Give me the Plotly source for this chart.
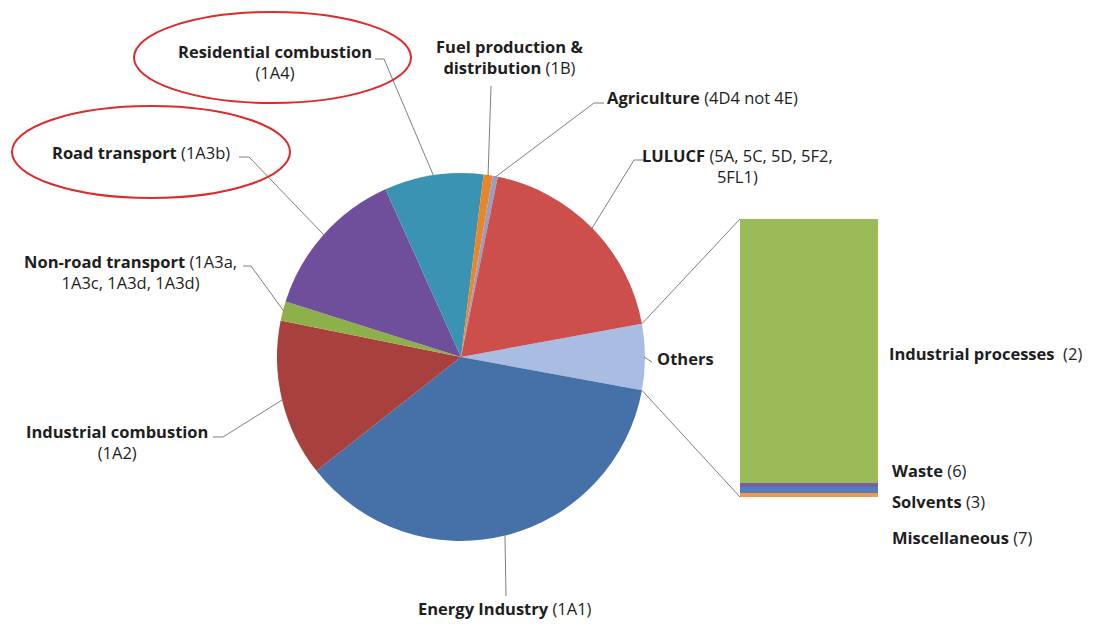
import math
import plotly.graph_objects as go

# ---------------- data (share of total, %) ----------------
pie_labels = [
    "Others",
    "Energy Industry (1A1)",
    "Industrial combustion (1A2)",
    "Non-road transport (1A3a, 1A3c, 1A3d, 1A3d)",
    "Road transport (1A3b)",
    "Residential combustion (1A4)",
    "Fuel production & distribution (1B)",
    "Agriculture (4D4 not 4E)",
    "LULUCF (5A, 5C, 5D, 5F2, 5FL1)",
]
main_values = [36.5, 13.8, 1.7, 13.4, 8.7, 0.8, 0.45, 18.9]

bar_labels = ["Industrial processes  (2)", "Waste (6)", "Solvents (3)", "Miscellaneous (7)"]
bar_values = [5.51, 0.083, 0.125, 0.083]

others_value = sum(bar_values)
pie_values = [others_value] + main_values

pie_colors = ["#A9BCE2", "#4670A8", "#A8403D", "#8DB04A", "#6F4F9C",
              "#3A93B3", "#E8862A", "#9C9CC0", "#CC4F4C"]
bar_colors = ["#9BBB59", "#7A5DA5", "#4F7FBF", "#F79646"]

# ---------------- layout constants (pixels) ----------------
W, H = 1100, 624
CX, CY, R = 461, 357, 184
BAR_X0, BAR_X1, BAR_Y0, BAR_Y1 = 740, 878, 219, 497


def px(x):
    return x / W


def py(y):
    return 1 - y / H


total = sum(pie_values)
rotation = 90 - (others_value / total) * 360 / 2

# slice angles (degrees, clockwise from 12 o'clock)
starts, mids, ends = [], [], []
acc = 0.0
for v in pie_values:
    a0 = rotation + acc / total * 360
    acc += v
    a1 = rotation + acc / total * 360
    starts.append(a0)
    ends.append(a1)
    mids.append((a0 + a1) / 2)


def edge(angle, r=R):
    a = math.radians(angle)
    return CX + r * math.sin(a), CY - r * math.cos(a)


fig = go.Figure()

fig.add_trace(go.Pie(
    labels=pie_labels,
    values=pie_values,
    sort=False,
    direction="clockwise",
    rotation=rotation,
    marker=dict(colors=pie_colors, line=dict(width=0)),
    textinfo="none",
    hoverinfo="label+value",
    domain=dict(x=[px(CX - R), px(CX + R)], y=[py(CY + R), py(CY - R)]),
    showlegend=False,
))

# secondary stacked bar (bottom-up)
for lab, val, col in reversed(list(zip(bar_labels, bar_values, bar_colors))):
    fig.add_trace(go.Bar(
        x=[0], y=[val], name=lab, marker=dict(color=col, line=dict(width=0)),
        width=1, showlegend=False, hoverinfo="name+y",
    ))

shapes = []
grey = "#7f7f7f"

# connector lines between "Others" slice and bar
ox0, oy0 = edge(starts[0])
ox1, oy1 = edge(ends[0])
shapes.append(dict(type="line", xref="paper", yref="paper",
                   x0=px(ox0), y0=py(oy0), x1=px(BAR_X0), y1=py(BAR_Y0),
                   line=dict(color=grey, width=1)))
shapes.append(dict(type="line", xref="paper", yref="paper",
                   x0=px(ox1), y0=py(oy1), x1=px(BAR_X0), y1=py(BAR_Y1),
                   line=dict(color=grey, width=1)))

labels_cfg = [
    # index in pie, text, x, y, xanchor, anchor point, knee x
    (5, "<b>Residential combustion</b><br>(1A4)", 275, 62, "center", (375, 59), 384),
    (6, "<b>Fuel production &amp;</b><br><b>distribution</b> (1B)", 509, 57, "center", (491, 86), None),
    (7, "<b>Agriculture</b> (4D4 not 4E)", 605, 97, "left", (604, 103), 594),
    (8, "<b>LULUCF</b> (5A, 5C, 5D, 5F2,<br>5FL1)", 737, 166, "center", (645, 160), 634),
    (0, "<b>Others</b>", 655, 358, "left", (652, 362), None),
    (1, "<b>Energy Industry</b> (1A1)", 505, 608, "center", (506, 596), None),
    (2, "<b>Industrial combustion</b><br>(1A2)", 117, 442, "center", (213, 437), 223),
    (3, "<b>Non-road transport</b> (1A3a,<br>1A3c, 1A3d, 1A3d)", 130, 272, "center", (243, 266), 251),
    (4, "<b>Road transport</b> (1A3b)", 141, 152, "center", (239, 157), 249),
]

annotations = []
font = dict(family="Open Sans, Lato, sans-serif", size=16.5, color="#1e1e1e")
for idx, text, x, y, xa, anchor, knee in labels_cfg:
    annotations.append(dict(text=text, x=px(x), y=py(y), xref="paper", yref="paper",
                            xanchor=xa, yanchor="middle", showarrow=False,
                            font=font, align="center"))
    ex, ey = edge(mids[idx], R - 1)
    ax, ay = anchor
    if knee is not None:
        path = f"M {px(ax)} {py(ay)} L {px(knee)} {py(ay)} L {px(ex)} {py(ey)}"
    else:
        path = f"M {px(ax)} {py(ay)} L {px(ex)} {py(ey)}"
    shapes.append(dict(type="path", xref="paper", yref="paper", path=path,
                       line=dict(color=grey, width=1)))

# secondary bar labels
bar_label_pos = [(887, 353), (890, 470), (890, 501), (890, 537)]
for lab, (x, y) in zip(bar_labels, bar_label_pos):
    name, code = lab.rsplit(" (", 1)
    annotations.append(dict(text=f"<b>{name}</b> ({code}", x=px(x), y=py(y),
                            xref="paper", yref="paper", xanchor="left",
                            yanchor="middle", showarrow=False, font=font))

# red highlight ellipses
for x0, y0, x1, y1 in [(134, 12, 411, 103), (12, 106, 290, 198)]:
    shapes.append(dict(type="circle", xref="paper", yref="paper",
                       x0=px(x0), y0=py(y1), x1=px(x1), y1=py(y0),
                       line=dict(color="#DD2A2A", width=2)))

fig.update_layout(
    width=W, height=H,
    margin=dict(l=0, r=0, t=0, b=0),
    paper_bgcolor="white", plot_bgcolor="white",
    barmode="stack", bargap=0,
    xaxis=dict(domain=[px(BAR_X0), px(BAR_X1)], range=[-0.5, 0.5], visible=False,
               fixedrange=True),
    yaxis=dict(domain=[py(BAR_Y1), py(BAR_Y0)], range=[0, others_value], visible=False,
               fixedrange=True),
    shapes=shapes,
    annotations=annotations,
    showlegend=False,
)

fig.write_html("out.html")
